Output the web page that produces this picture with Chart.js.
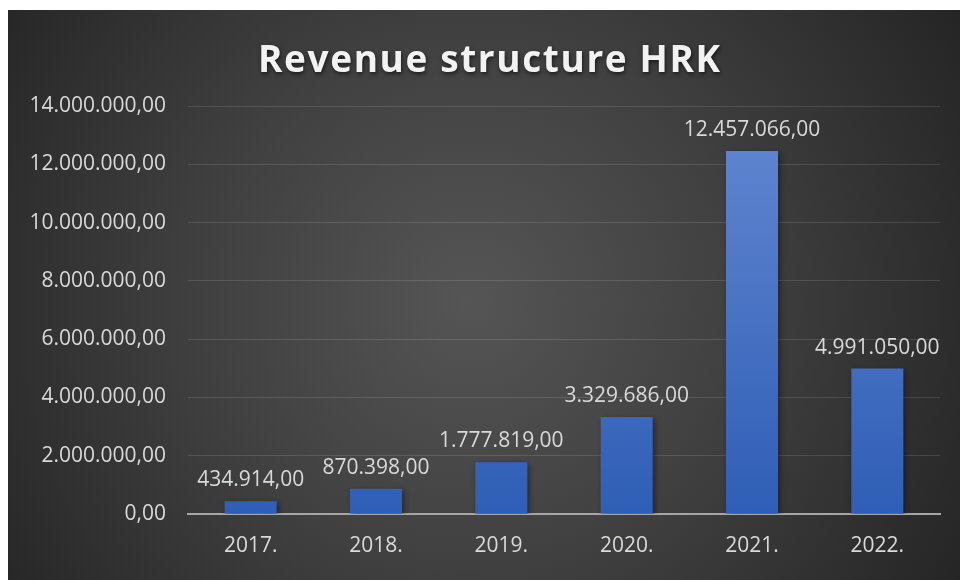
<!DOCTYPE html>
<html>
<head>
<meta charset="utf-8">
<script src="https://cdn.jsdelivr.net/npm/chart.js@4.4.1/dist/chart.umd.min.js"></script>
<style>
  html, body { margin: 0; padding: 0; background: #ffffff; }
  #wrap { position: absolute; left: 0; top: 0; width: 960px; height: 580px; }
</style>
</head>
<body>
<div id="wrap"><canvas id="c" width="960" height="580"></canvas></div>
<script>
const chartTitle = 'Revenue structure HRK';
const categories = ['2017.', '2018.', '2019.', '2020.', '2021.', '2022.'];
const revenue = [434914, 870398, 1777819, 3329686, 12457066, 4991050];
const yTicks = [0, 2000000, 4000000, 6000000, 8000000, 10000000, 12000000, 14000000];

const FONT = '"Open Sans", "Noto Sans", sans-serif';

function fmt(v) {
  const s = Math.round(v).toString();
  const withDots = s.replace(/\B(?=(\d{3})+(?!\d))/g, '.');
  return withDots + ',00';
}

const bgPlugin = {
  id: 'bg',
  beforeDraw(chart) {
    const ctx = chart.ctx;
    const W = chart.width, H = chart.height;
    ctx.save();
    ctx.fillStyle = '#ffffff';
    ctx.fillRect(0, 0, W, H);
    const x0 = 8, y0 = 10;
    const g = ctx.createRadialGradient(470, 300, 0, 470, 300, 600);
    g.addColorStop(0, '#555555');
    g.addColorStop(0.45, '#404040');
    g.addColorStop(1, '#222222');
    ctx.fillStyle = g;
    ctx.fillRect(x0, y0, W - x0, H - y0);
    ctx.restore();
  }
};

const titlePlugin = {
  id: 'customTitle',
  afterDraw(chart) {
    const ctx = chart.ctx;
    ctx.save();
    let size = 37;
    const target = 462;
    ctx.font = 'bold ' + size + 'px ' + FONT;
    ctx.letterSpacing = '0px';
    let w = ctx.measureText(chartTitle).width;
    while (w > target - 20 && size > 20) {
      size -= 1;
      ctx.font = 'bold ' + size + 'px ' + FONT;
      w = ctx.measureText(chartTitle).width;
    }
    const n = chartTitle.length;
    const sp = Math.max(0, (target - w) / (n - 1));
    ctx.letterSpacing = sp.toFixed(2) + 'px';
    ctx.textAlign = 'left';
    ctx.textBaseline = 'alphabetic';
    ctx.fillStyle = '#f2f2f2';
    ctx.shadowColor = 'rgba(0,0,0,0.6)';
    ctx.shadowBlur = 4;
    ctx.shadowOffsetX = 1;
    ctx.shadowOffsetY = 2;
    ctx.fillText(chartTitle, 258, 72);
    ctx.restore();
  }
};

const shadowPlugin = {
  id: 'barShadow',
  beforeDatasetsDraw(chart) {
    const ctx = chart.ctx;
    ctx.save();
    ctx.shadowColor = 'rgba(0,0,0,0.45)';
    ctx.shadowBlur = 6;
    ctx.shadowOffsetX = 2;
    ctx.shadowOffsetY = 2;
  },
  afterDatasetsDraw(chart) {
    chart.ctx.restore();
  }
};

const labelPlugin = {
  id: 'valueLabels',
  afterDatasetsDraw(chart) {
    const ctx = chart.ctx;
    const meta = chart.getDatasetMeta(0);
    ctx.save();
    ctx.font = '21px ' + FONT;
    ctx.fillStyle = '#d9d9d9';
    ctx.textAlign = 'center';
    ctx.textBaseline = 'middle';
    meta.data.forEach((bar, i) => {
      ctx.fillText(fmt(chart.data.datasets[0].data[i]), bar.x, bar.y - 21);
    });
    ctx.restore();
  }
};

new Chart(document.getElementById('c'), {
  type: 'bar',
  data: {
    labels: categories,
    datasets: [{
      label: chartTitle,
      data: revenue,
      borderWidth: 0,
      categoryPercentage: 1,
      barPercentage: 0.415,
      backgroundColor(ctx) {
        const chart = ctx.chart;
        const area = chart.chartArea;
        if (!area) return '#4472c4';
        const el = ctx.element;
        const top = el && isFinite(el.y) ? el.y : area.top;
        const bottom = area.bottom;
        if (!(bottom > top)) return '#4472c4';
        const g = chart.ctx.createLinearGradient(0, top, 0, bottom);
        g.addColorStop(0, '#6388d1');
        g.addColorStop(1, '#2f5eb6');
        return g;
      }
    }]
  },
  options: {
    responsive: false,
    animation: false,
    devicePixelRatio: 1,
    layout: { padding: { top: 106, right: 20, bottom: 0, left: 0 } },
    plugins: {
      legend: { display: false },
      title: { display: false },
      tooltip: { enabled: false }
    },
    scales: {
      x: {
        grid: { display: false, drawTicks: false },
        border: { display: true, color: '#a6a6a6', width: 2 },
        ticks: {
          color: '#d9d9d9',
          font: { family: FONT, size: 21 },
          padding: 19
        },
        afterFit(scale) { scale.height = 66; }
      },
      y: {
        min: 0,
        max: 14000000,
        afterBuildTicks(scale) { scale.ticks = yTicks.map(v => ({ value: v })); },
        grid: { color: 'rgba(255,255,255,0.12)', lineWidth: 1, drawTicks: false },
        border: { display: false },
        ticks: {
          color: '#d9d9d9',
          font: { family: FONT, size: 21 },
          padding: 22,
          callback: (v) => fmt(v)
        },
        afterFit(scale) { scale.width = 188; }
      }
    }
  },
  plugins: [bgPlugin, shadowPlugin, labelPlugin, titlePlugin]
});
</script>
</body>
</html>
